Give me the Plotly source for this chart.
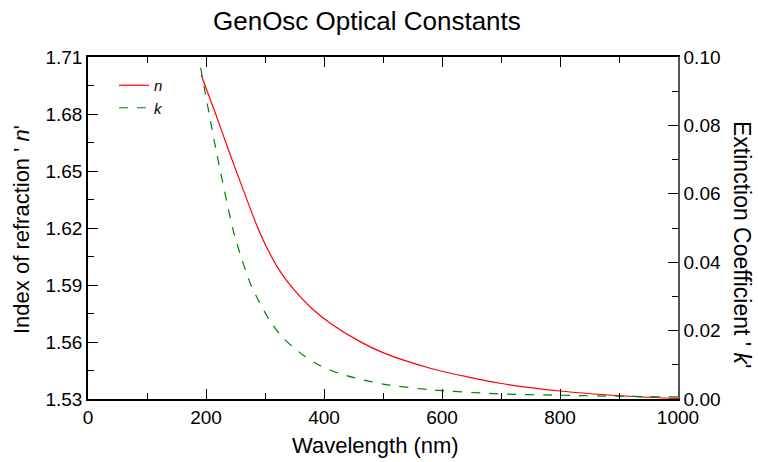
import plotly.graph_objects as go

# Values
wl_n = [192, 215, 238, 262, 286, 305, 327, 348, 380, 410, 461, 503, 580, 641, 698, 800, 902, 1000]
n_vals = [1.7004, 1.6812, 1.6612, 1.6410, 1.6215, 1.6085, 1.5965, 1.5880, 1.5775, 1.5700,
          1.5602, 1.5540, 1.5462, 1.5418, 1.5383, 1.5342, 1.5317, 1.5302]

wl_k = [191, 217, 246, 255, 277, 308, 331, 365, 393, 427, 461, 503, 580, 698, 800, 902, 1000]
k_vals = [0.0968, 0.0728, 0.0494, 0.0440, 0.0330, 0.0230, 0.0178, 0.0128, 0.0098, 0.0074,
          0.0058, 0.0043, 0.0027, 0.0015, 0.0011, 0.0008, 0.0006]

FONT = "Liberation Sans, Arial, sans-serif"

fig = go.Figure()
fig.add_trace(go.Scatter(x=wl_n, y=n_vals, name="<i>n</i>", mode="lines",
                         line=dict(color="#ff0000", width=1.2, shape="spline", smoothing=0.8),
                         yaxis="y"))
fig.add_trace(go.Scatter(x=wl_k, y=k_vals, name="<i>k</i>", mode="lines",
                         line=dict(color="#008000", width=1.2, dash="dash", shape="spline", smoothing=0.8),
                         yaxis="y2"))

axis_common = dict(showgrid=False, zeroline=False, showline=True, linewidth=1.5,
                   ticks="inside", ticklen=10, tickwidth=1.3, tickcolor="black",
                   tickfont=dict(family=FONT, size=19, color="black"))

L, R, T, B = 88, 80, 57, 63
PW, PH = 758 - L - R, 462 - T - B


def px(xp):
    return (xp - L) / PW


def py(yp):
    return (462 - B - yp) / PH


fig.update_layout(
    width=758, height=462,
    margin=dict(l=L, r=R, t=T, b=B),
    paper_bgcolor="white", plot_bgcolor="white",
    showlegend=True,
    legend=dict(x=px(114), y=py(69), xanchor="left", yanchor="top",
                bgcolor="rgba(0,0,0,0)", font=dict(family=FONT, size=15, color="black"),
                tracegroupgap=0, itemwidth=30),
    xaxis=dict(range=[0, 1000], tick0=0, dtick=200, linecolor="black", mirror="ticks",
               minor=dict(dtick=100, ticks="inside", ticklen=6, tickcolor="black"),
               **axis_common),
    yaxis=dict(range=[1.53, 1.71], tick0=1.53, dtick=0.03, tickformat=".2f", linecolor="black",
               minor=dict(dtick=0.015, tick0=1.53, ticks="inside", ticklen=6, tickcolor="black"),
               **axis_common),
    yaxis2=dict(range=[0, 0.1], tick0=0, dtick=0.02, tickformat=".2f", overlaying="y", side="right",
                linecolor="#555555",
                minor=dict(dtick=0.01, ticks="inside", ticklen=6, tickcolor="black"),
                **axis_common),
    annotations=[
        dict(text="GenOsc Optical Constants", x=px(367), y=py(21), xref="paper", yref="paper",
             xanchor="center", yanchor="middle",
             showarrow=False, font=dict(family=FONT, size=26, color="black")),
        dict(text="Wavelength (nm)", x=px(375), y=py(445), xref="paper", yref="paper",
             xanchor="center", yanchor="middle",
             showarrow=False, font=dict(family=FONT, size=22, color="black")),
        dict(text="Index of refraction ' <i>n</i>'", x=px(22), y=py(230), xref="paper", yref="paper",
             xanchor="center", yanchor="middle",
             textangle=-90, showarrow=False, font=dict(family=FONT, size=22, color="black")),
        dict(text="Extinction Coefficient ' <i>k</i>'", x=px(742), y=py(244), xref="paper", yref="paper",
             xanchor="center", yanchor="middle",
             textangle=90, showarrow=False, font=dict(family=FONT, size=23, color="black")),
    ],
)

fig.write_html("out.html")
